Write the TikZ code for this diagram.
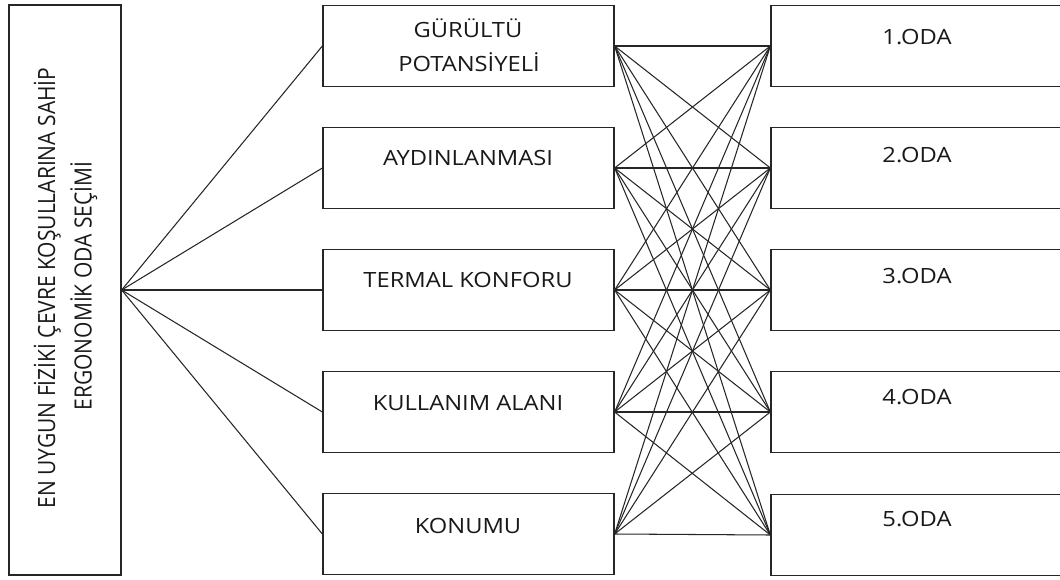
\documentclass[tikz,border=0pt]{standalone}
\usepackage{fontspec}
\newfontfamily\dfont[FakeStretch=1.13]{Open Sans}
\newfontfamily\rfont{Open Sans}
\begin{document}
\begin{tikzpicture}[x=1pt,y=-1pt,
  box/.style={draw=black!85, line width=1.3pt, minimum width=291pt, minimum height=81pt, inner sep=0pt},
  lab/.style={font=\dfont\fontsize{21}{25}\selectfont, text=black!90, text height=15pt, text depth=0pt, inner sep=0pt},
  rlab/.style={font=\rfont\fontsize{21}{25}\selectfont, text=black!90, rotate=90, text height=17pt, text depth=0pt, inner sep=0pt},
  conn/.style={draw=black!85, line width=1.05pt}]
\useasboundingbox (0,0) rectangle (1060,580);
\fill[white] (0,0) rectangle (1060,580);
\clip (0,0) rectangle (1060,580);

% left box
\node[draw=black!85, line width=1.3pt, minimum width=112pt, minimum height=570pt, inner sep=0pt] (L) at (65,290) {};
\node[rlab] (Lt1) at (46.5,288) {\scalebox{1}[1.13]{EN UYGUN FİZİKİ ÇEVRE KOŞULLARINA SAHİP}};
\node[rlab] (Lt2) at (83,286) {\scalebox{1}[1.13]{ERGONOMİK ODA SEÇİMİ}};

% middle boxes
\node[box] (m1) at (468.5,46) {};
\node[box] (m2) at (468.5,168) {};
\node[box] (m3) at (468.5,290) {};
\node[box] (m4) at (468.5,412) {};
\node[box] (m5) at (468.5,534) {};

\node[lab] (t1a) at (468,30) {GÜRÜLTÜ};
\node[lab] (t1b) at (469,64) {POTANSİYELİ};
\node[lab] (t2) at (468,158) {AYDINLANMASI};
\node[lab] (t3) at (468,280) {TERMAL KONFORU};
\node[lab] (t4) at (468,403) {KULLANIM ALANI};
\node[lab] (t5) at (468,526) {KONUMU};

% right boxes
\node[box, minimum width=292pt] (r1) at (917,46) {};
\node[box, minimum width=292pt] (r2) at (917,168) {};
\node[box, minimum width=292pt] (r3) at (917,290) {};
\node[box, minimum width=292pt] (r4) at (917,412) {};
\node[box, minimum width=292pt] (r5) at (917,535) {};

\node[lab] (o1) at (917,37) {1.ODA};
\node[lab] (o2) at (917,155) {2.ODA};
\node[lab] (o3) at (917,276) {3.ODA};
\node[lab] (o4) at (917,397) {4.ODA};
\node[lab] (o5) at (917,519) {5.ODA};

% connectors
\foreach \i in {1,...,5}{
  \draw[conn] (L.east) -- (m\i.west);
  \foreach \j in {1,...,5}{
    \draw[conn] (m\i.east) -- (r\j.west);
  }
}
\end{tikzpicture}
\end{document}
